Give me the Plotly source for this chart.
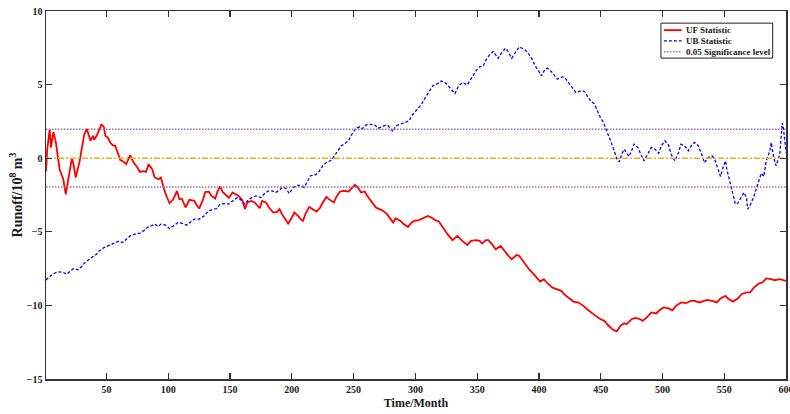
import plotly.graph_objects as go

# ---- data ----
uf_month = [1, 2, 4, 5, 7, 9, 12, 15, 17, 20, 22, 23, 25, 28, 30, 32, 34, 37, 39, 40, 42, 44, 46, 48, 49,
            51, 53, 55, 57, 59, 61, 64, 66, 69, 72, 75, 77, 80, 82, 84, 87, 89, 92, 94, 95, 97, 99,
            101, 104, 107, 109, 111, 114, 117, 121, 122, 125, 128, 130, 133, 135, 138, 140, 142, 144,
            147, 149, 152, 157, 160, 162, 164, 167, 170, 174, 176, 179, 182, 185, 188, 190, 192, 195,
            197, 200, 202, 205, 207, 209, 211, 214, 217, 220, 223, 225, 228, 230, 234, 236, 239, 242,
            246, 249, 251, 254, 256, 259, 261, 264, 268, 271, 274, 277, 279, 282, 284, 288, 290, 294,
            297, 299, 303, 306, 310, 313, 316, 319, 322, 326, 330, 334, 338, 342, 345, 349, 352, 354,
            357, 359, 362, 365, 369, 373, 376, 378, 382, 384, 388, 392, 397, 401, 404, 407, 411, 414,
            418, 421, 425, 428, 432, 436, 439, 442, 447, 450, 453, 456, 460, 463, 466, 469, 471, 475,
            478, 482, 484, 488, 491, 495, 498, 501, 505, 508, 511, 515, 519, 523, 526, 530, 533, 536,
            540, 544, 547, 551, 553, 557, 561, 564, 568, 571, 574, 578, 581, 584, 588, 591, 595, 600]
uf_value = [-0.9, 0.6, 1.97, 0.72, 1.79, 1.07, -0.75, -1.43, -2.45, -1.09, 0.0, -0.3, -1.31, -0.3, 0.84,
            1.63, 2.0, 1.18, 1.52, 1.25, 1.52, 1.86, 2.31, 2.08, 1.52,
            1.4, 1.07, 0.88, 0.84, 0.39, -0.11, -0.25, -0.41, 0.2, -0.3, -0.63, -0.93, -0.88, -0.93,
            -0.41, -0.75, -1.31, -1.43, -1.31, -1.65, -2.22, -2.67,
            -3.06, -2.79, -2.22, -2.79, -2.75, -3.35, -2.83, -2.9, -3.06, -3.42, -2.83, -2.29, -2.29,
            -2.56, -2.74, -2.22, -1.92, -2.29,
            -2.56, -2.7, -2.33, -2.56, -2.85, -3.46, -3.01, -2.9, -3.01, -3.4, -2.9, -3.0, -3.4, -3.69,
            -3.65, -3.46, -3.8, -4.14,
            -4.44, -4.03, -3.69, -3.92, -4.14, -4.26, -3.8, -3.31, -3.46, -3.62, -3.35, -3.01, -2.63,
            -2.78, -3.01, -2.63, -2.26, -2.22,
            -2.26, -1.99, -1.81, -2.04, -2.33, -2.26, -2.56, -2.9, -3.35, -3.46, -3.58, -3.8, -4.03,
            -4.37, -4.08, -4.26, -4.44, -4.67,
            -4.37, -4.26, -4.21, -4.08, -3.92, -4.03, -4.21, -4.3, -4.71, -5.16, -5.57, -5.28, -5.62,
            -5.89, -5.62, -5.57, -5.62, -5.8,
            -5.57, -5.57, -5.84, -6.18, -5.96, -6.41, -6.7, -6.86, -6.57, -6.63, -7.09, -7.54, -8.0,
            -8.38, -8.22, -8.51, -8.79, -8.9,
            -9.01, -9.29, -9.58, -9.74, -9.81, -10.03, -10.26, -10.48, -10.78, -10.94, -11.05, -11.35,
            -11.66, -11.77, -11.39, -11.21, -11.28, -10.94,
            -10.85, -10.94, -11.05, -10.76, -10.48, -10.55, -10.3, -10.14, -10.2, -10.33, -10.03, -9.8,
            -9.85, -9.69, -9.69, -9.8, -9.69, -9.62,
            -9.69, -9.8, -9.53, -9.35, -9.53, -9.74, -9.53, -9.24, -9.12, -9.12, -8.79, -8.51, -8.44,
            -8.17, -8.22, -8.29, -8.22, -8.33]

ub_month = [1, 4, 8, 11, 15, 18, 20, 23, 27, 30, 32, 35, 38, 41, 44, 48, 51, 54, 57, 60, 63, 66, 69, 73,
            77, 80, 83, 86, 89, 92, 94, 98, 101, 104, 108, 111, 115, 118, 121, 125, 129, 132, 136, 139,
            142, 146, 149, 152, 156, 159, 162, 165, 168, 171, 175, 178, 181, 184, 187, 190, 192, 195,
            198, 201, 205, 208, 210, 213, 215, 219, 222, 225, 228, 232, 234, 237, 240, 243, 246, 249,
            252, 255, 257, 260, 263, 267, 270, 273, 276, 278, 282, 284, 288, 291, 295, 297, 300, 303,
            305, 308, 311, 314, 318, 321, 325, 328, 332, 335, 338, 342, 346, 349, 352, 355, 357, 360,
            363, 365, 367, 370, 373, 375, 378, 381, 384, 388, 391, 394, 397, 400, 402, 405, 407, 410,
            413, 415, 419, 421, 424, 427, 430, 434, 437, 439, 442, 445, 447, 450, 452, 455, 458, 461,
            463, 465, 467, 469, 471, 473, 475, 477, 480, 482, 485, 488, 491, 494, 497, 499, 502, 505,
            507, 510, 513, 515, 518, 521, 524, 526, 529, 532, 534, 537, 540, 542, 544, 547, 549, 551,
            552, 555, 557, 559, 561, 564, 566, 568, 569, 571, 574, 576, 578, 580, 582, 584, 587, 588,
            590, 592, 595, 597, 598, 600]
ub_value = [-8.27, -8.04, -7.81, -7.72, -7.76, -7.88, -7.72, -7.5, -7.58, -7.36, -7.13, -6.91, -6.75,
            -6.59, -6.3, -6.07, -5.96, -5.84, -5.78, -5.64, -5.73, -5.5, -5.28, -5.16,
            -5.09, -4.94, -4.71, -4.6, -4.48, -4.64, -4.48, -4.55, -4.78, -4.6, -4.37, -4.42, -4.55,
            -4.33, -4.14, -4.14, -3.92, -3.64, -3.46, -3.42,
            -3.12, -3.08, -3.12, -2.9, -2.67, -2.85, -3.12, -2.79, -2.67, -2.56, -2.67, -2.4, -2.22,
            -2.22, -2.33, -2.17, -1.99, -2.04,
            -2.4, -1.99, -1.83, -1.88, -1.99, -1.54, -1.2, -1.13, -0.91, -0.52, -0.29, -0.14, 0.09,
            0.45, 0.84, 1.0, 1.22, 1.68,
            2.04, 2.13, 2.0, 2.26, 2.3, 2.26, 2.04, 2.13, 2.26, 2.2, 1.81, 2.19, 2.33, 2.4, 2.54, 2.88,
            3.2, 3.45,
            3.67, 4.12, 4.53, 4.91, 5.07, 5.25, 5.07, 4.8, 4.39, 4.91, 5.14, 4.98, 5.48, 5.93, 6.2,
            6.27, 6.66, 7.02,
            7.25, 7.02, 6.79, 7.18, 7.47, 7.25, 6.79, 7.18, 7.56, 7.4, 7.18, 6.79, 6.27, 5.89, 5.59,
            6.05, 6.11, 5.89,
            5.59, 5.37, 5.52, 5.48, 5.14, 4.8, 4.46, 4.57, 4.53, 4.23, 3.89, 3.67, 3.26, 2.72, 2.47,
            1.86, 1.18, 0.5,
            -0.02, -0.25, 0.27, 0.61, 0.39, 0.11, 0.5, 0.95, 0.73, 0.39, -0.18, 0.27, 0.73, 0.61, 0.34,
            0.84, 1.18, 0.88,
            0.27, -0.18, 0.39, 0.95, 0.84, 0.5, 0.95, 1.07, 0.84, 0.2, -0.3, 0.04, 0.16, -0.02, -0.52,
            -1.24, -0.63, -0.18,
            -0.71, -1.77, -2.56, -3.12, -3.06, -2.67, -2.33, -2.67, -3.46, -3.19, -2.6, -2.06, -1.54,
            -1.02, -1.24, -0.18, 0.5, 1.07,
            0.05, -0.52, 0.3, 2.4, 1.97, 0.39]

sig_level = 1.96
line_x = [1, 600]
x_ticks = [50, 100, 150, 200, 250, 300, 350, 400, 450, 500, 550, 600]
y_ticks = [-15, -10, -5, 0, 5, 10]

series_names = ["UF Statistic", "UB Statistic", "0.05 Significance level"]

FONT = "Liberation Serif"
TXT = "#1a1a1a"
AX = "#333333"

uf_style = dict(color="#ff0000", width=1.8)
ub_style = dict(color="#0000ff", width=1.3, dash="3px,2px")
sig_style = dict(color="#9a6aaa", width=1.5, dash="1.5px,1.5px")
zero_style = dict(color="#EDB120", width=1.5, dash="6px,2px,2px,2px")

fig = go.Figure()
fig.add_trace(go.Scatter(x=uf_month, y=uf_value, mode="lines", name=series_names[0],
                         line=uf_style, showlegend=False))
fig.add_trace(go.Scatter(x=ub_month, y=ub_value, mode="lines", name=series_names[1],
                         line=ub_style, showlegend=False))
fig.add_trace(go.Scatter(x=line_x, y=[sig_level, sig_level], mode="lines", name=series_names[2],
                         line=sig_style, showlegend=False))
fig.add_trace(go.Scatter(x=line_x, y=[-sig_level, -sig_level], mode="lines", name=series_names[2],
                         line=sig_style, showlegend=False))
fig.add_trace(go.Scatter(x=line_x, y=[0, 0], mode="lines", name="0",
                         line=zero_style, showlegend=False))

axis_common = dict(showline=True, linecolor=AX, linewidth=1.5, mirror="ticks",
                   ticks="inside", ticklen=6, tickwidth=1.3, tickcolor=AX,
                   showgrid=False, zeroline=False,
                   tickfont=dict(family=FONT, size=10, color=TXT, weight="bold"))

fig.update_xaxes(range=[1, 600], tickvals=x_ticks, ticklabeloverflow="allow",
                 title=dict(text="Time/Month",
                            font=dict(family=FONT, size=12, color=TXT, weight="bold"),
                            standoff=5),
                 **axis_common)
fig.update_yaxes(range=[-15, 10], tickvals=y_ticks,
                 title=dict(text="Runoff/10<sup>8</sup> m<sup>3</sup>",
                            font=dict(family=FONT, size=14, color=TXT, weight="bold"),
                            standoff=1),
                 **axis_common)

# compact boxed legend (top right, inside the axes)
lx0, lx1, ly0, ly1 = 0.831, 0.982, 0.872, 0.967
shapes = [dict(type="rect", xref="paper", yref="paper", x0=lx0, x1=lx1, y0=ly0, y1=ly1,
               line=dict(color="#222", width=1), fillcolor="white", layer="above")]
annotations = []
entry_y = [0.948, 0.919, 0.889]
entry_styles = [uf_style, ub_style, sig_style]
for name, yy, st in zip(series_names, entry_y, entry_styles):
    shapes.append(dict(type="line", xref="paper", yref="paper", x0=0.835, x1=0.859, y0=yy, y1=yy,
                       line=st, layer="above"))
    annotations.append(dict(xref="paper", yref="paper", x=0.862, y=yy, xanchor="left",
                            yanchor="middle", text=name, showarrow=False,
                            font=dict(family=FONT, size=9, color=TXT, weight="bold")))

fig.update_layout(
    width=790, height=414,
    margin=dict(l=46, r=4, t=11, b=35, autoexpand=False),
    paper_bgcolor="white", plot_bgcolor="white",
    font=dict(family=FONT, color=TXT),
    showlegend=False,
    hovermode=False,
    shapes=shapes,
    annotations=annotations,
)

fig.write_html("out.html", config={"displayModeBar": False, "staticPlot": True},
               post_script="document.body.style.margin='0';")
